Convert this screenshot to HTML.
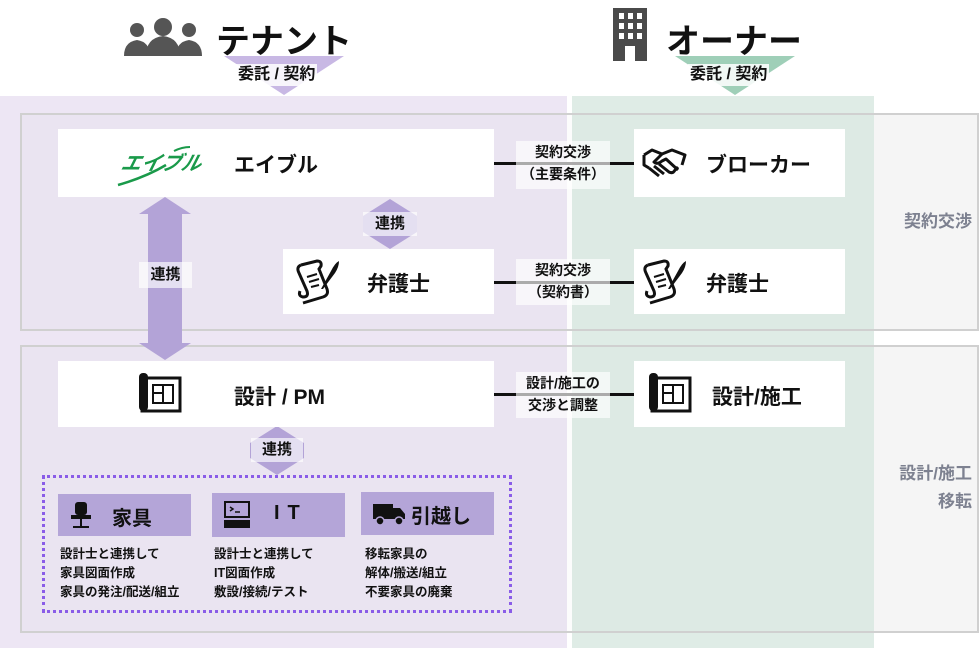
<!DOCTYPE html>
<html><head><meta charset="utf-8"><style>
*{margin:0;padding:0;box-sizing:border-box}
body{width:980px;height:648px;position:relative;background:#fff;overflow:hidden;font-family:"Liberation Sans","Noto Sans CJK JP",sans-serif;color:#111}
.a{position:absolute}
.node{position:absolute;background:#fff;font-weight:bold;font-size:21px}
.lbl{position:absolute;background:rgba(255,255,255,0.65);font-size:14px;font-weight:bold;text-align:center;line-height:22px}
.sub{position:absolute;background:#b4a5d8;font-weight:bold;font-size:20px}
.desc{position:absolute;font-size:12.5px;font-weight:bold;line-height:19px}
.side{position:absolute;color:#7d8190;font-weight:bold;font-size:17px;text-align:right;line-height:28px}
</style></head><body>
<div class="a" style="left:0;top:96px;width:567px;height:552px;background:#ede6f4"></div>
<div class="a" style="left:572px;top:96px;width:302px;height:552px;background:#dfece6"></div>
<div class="a" style="left:20px;top:113px;width:959px;height:218px;border:2px solid #d0d0d0;background:rgba(200,200,200,0.05)"></div>
<div class="a" style="left:20px;top:345px;width:959px;height:288px;border:2px solid #d0d0d0;background:rgba(200,200,200,0.05)"></div>
<div class="a" style="left:874px;top:115px;width:103px;height:214px;background:#f5f5f5"></div>
<div class="a" style="left:874px;top:347px;width:103px;height:284px;background:#f5f5f5"></div>
<div class="side" style="left:876px;top:208px;width:96px">契約交渉</div>
<div class="side" style="left:862px;top:460px;width:110px">設計/施工<br>移転</div>

<svg class="a" style="left:122px;top:16px" width="82" height="42" viewBox="0 0 82 42">
<g fill="#555">
<circle cx="15" cy="14" r="7"/><path d="M2 40 q0 -14 13 -16 q13 2 13 16z"/>
<circle cx="67" cy="14" r="7"/><path d="M54 40 q0 -14 13 -16 q13 2 13 16z"/>
<circle cx="41" cy="11" r="9"/><path d="M24 40 q0 -18 17 -20 q17 2 17 20z"/>
</g></svg>
<div class="a" style="left:216px;top:14px;font-size:34px;font-weight:bold">テナント</div>
<svg class="a" style="left:224px;top:56px" width="120" height="40"><polygon points="0,0 120,0 60,39" fill="#c8b8e4"/></svg>
<div class="a" style="left:236px;top:64px;font-size:16px;font-weight:bold;background:rgba(255,255,255,0.85);padding:0 2px;line-height:22px">委託 / 契約</div>

<svg class="a" style="left:613px;top:8px" width="36" height="54"><rect x="0" y="0" width="34" height="53" fill="#4a4a4a"/><g fill="#fff">
<rect x="6" y="5" width="5" height="6"/><rect x="15" y="5" width="5" height="6"/><rect x="24" y="5" width="5" height="6"/>
<rect x="6" y="15" width="5" height="6"/><rect x="15" y="15" width="5" height="6"/><rect x="24" y="15" width="5" height="6"/>
<rect x="6" y="25" width="5" height="6"/><rect x="15" y="25" width="5" height="6"/><rect x="24" y="25" width="5" height="6"/>
<rect x="12" y="38" width="10" height="15"/></g></svg>
<div class="a" style="left:666px;top:14px;font-size:34px;font-weight:bold">オーナー</div>
<svg class="a" style="left:675px;top:56px" width="120" height="40"><polygon points="0,0 120,0 60,39" fill="#9fcfb8"/></svg>
<div class="a" style="left:688px;top:64px;font-size:16px;font-weight:bold;background:rgba(255,255,255,0.85);padding:0 2px;line-height:22px">委託 / 契約</div>

<div class="a" style="left:494px;top:162px;width:140px;height:3px;background:#111"></div>
<div class="a" style="left:494px;top:281px;width:140px;height:3px;background:#111"></div>
<div class="a" style="left:494px;top:393px;width:140px;height:3px;background:#111"></div>
<div class="lbl" style="left:516px;top:141px;width:94px;height:48px">契約交渉<br>（主要条件）</div>
<div class="lbl" style="left:516px;top:259px;width:94px;height:46px">契約交渉<br>（契約書）</div>
<div class="lbl" style="left:516px;top:372px;width:94px;height:46px">設計/施工の<br>交渉と調整</div>

<svg class="a" style="left:139px;top:197px" width="53" height="164"><polygon points="26,0 52,17 43,17 43,146 52,146 26,163 0,146 9,146 9,17 0,17" fill="#b3a3d7"/></svg>
<div class="lbl" style="left:139px;top:262px;width:53px;height:26px;font-size:15px;line-height:26px">連携</div>
<svg class="a" style="left:363px;top:199px" width="54" height="50"><polygon points="27,0 54,17 54,33 27,50 0,33 0,17" fill="#b3a3d7"/></svg>
<div class="lbl" style="left:363px;top:212px;width:54px;height:24px;font-size:15px;line-height:24px">連携</div>
<svg class="a" style="left:250px;top:426px" width="54" height="49"><polygon points="27,0 54,17 54,32 27,49 0,32 0,17" fill="#b3a3d7"/></svg>
<div class="lbl" style="left:251px;top:438px;width:52px;height:24px;font-size:15px;line-height:24px">連携</div>

<div class="node" style="left:58px;top:129px;width:436px;height:68px">
<div class="a" style="left:64px;top:18px;font-style:italic;color:#1a9a4a;font-size:20px;font-weight:bold;transform:skewX(-14deg)">エイブル</div>
<svg class="a" style="left:58px;top:14px" width="76" height="44"><path d="M2 42 Q30 34 50 22" stroke="#1a9a4a" stroke-width="2.5" fill="none"/><path d="M58 8 Q66 4 74 4" stroke="#1a9a4a" stroke-width="2" fill="none"/></svg>
<div class="a" style="left:176px;top:20px">エイブル</div></div>

<svg width="0" height="0" style="position:absolute"><defs>
<g id="scroll"><path d="M6 6 q-5 2 -2 8 l8 18 q2 6 -4 6 q-5 -1 -3 -6" fill="none" stroke="#111" stroke-width="3"/><path d="M6 6 l16 -4 q5 0 4 5 l-2 3 l8 20 q2 6 -4 8 l-20 6" fill="none" stroke="#111" stroke-width="3"/><path d="M12 18l10-3M14 23l10-3M16 28l8-2" stroke="#111" stroke-width="2"/><path d="M26 30 l10 -18 q4 -8 8 -10 q0 6 -4 12 l-12 16z" fill="#111"/></g>
</defs></svg>

<div class="node" style="left:634px;top:129px;width:211px;height:68px">
<svg class="a" style="left:8px;top:18px" width="46" height="32"><g fill="none" stroke="#111" stroke-width="3" stroke-linejoin="round"><path d="M2 8 l8 -5 l10 4 l10 -4 l13 5 l-3 10"/><path d="M2 8 l-0 10 l5 3"/><path d="M20 7 l-8 8 q3 3 8 -1 l4 -2 l12 11"/><path d="M7 21 l10 8 M12 19 l10 8 M17 17 l10 8 q4 2 6 -2 l3 -3"/></g></svg>
<div class="a" style="left:72px;top:20px">ブローカー</div></div>
<div class="node" style="left:283px;top:249px;width:211px;height:65px">
<svg class="a" style="left:12px;top:10px" width="46" height="46"><use href="#scroll"/></svg>
<div class="a" style="left:84px;top:19px">弁護士</div></div>
<div class="node" style="left:634px;top:249px;width:211px;height:65px">
<svg class="a" style="left:8px;top:10px" width="46" height="46"><use href="#scroll"/></svg>
<div class="a" style="left:72px;top:19px">弁護士</div></div>
<div class="node" style="left:58px;top:361px;width:436px;height:66px">
<svg class="a" style="left:80px;top:12px" width="44" height="40"><rect x="1" y="0" width="9" height="38" rx="4" fill="#111"/><rect x="4" y="5" width="38" height="33" fill="none" stroke="#111" stroke-width="3"/><rect x="15" y="12" width="20" height="18" fill="none" stroke="#111" stroke-width="2"/><path d="M15 20h10v10M25 12v8" stroke="#111" stroke-width="2" fill="none"/></svg>
<div class="a" style="left:176px;top:20px">設計 / PM</div></div>
<div class="node" style="left:634px;top:361px;width:211px;height:66px">
<svg class="a" style="left:14px;top:12px" width="44" height="40"><rect x="1" y="0" width="9" height="38" rx="4" fill="#111"/><rect x="4" y="5" width="38" height="33" fill="none" stroke="#111" stroke-width="3"/><rect x="15" y="12" width="20" height="18" fill="none" stroke="#111" stroke-width="2"/><path d="M15 20h10v10M25 12v8" stroke="#111" stroke-width="2" fill="none"/></svg>
<div class="a" style="left:78px;top:20px">設計/施工</div></div>

<div class="a" style="left:42px;top:475px;width:470px;height:138px;border:3px dotted #8a5ce8"></div>
<div class="sub" style="left:58px;top:494px;width:133px;height:42px">
<svg class="a" style="left:12px;top:8px" width="22" height="28"><rect x="5" y="0" width="12" height="13" rx="3" fill="#111"/><rect x="1" y="13" width="20" height="4" fill="#111"/><rect x="10" y="17" width="2" height="5" fill="#111"/><path d="M3 25h16M11 22v3" stroke="#111" stroke-width="2"/></svg>
<div class="a" style="left:54px;top:8px">家具</div></div>
<div class="sub" style="left:212px;top:493px;width:133px;height:44px">
<svg class="a" style="left:12px;top:8px" width="26" height="28"><rect x="1" y="1" width="24" height="15" fill="none" stroke="#111" stroke-width="2"/><path d="M6 6l3 2-3 2M11 11h5" stroke="#111" stroke-width="1.5" fill="none"/><rect x="0" y="19" width="26" height="8" fill="#111"/></svg>
<div class="a" style="left:62px;top:9px;letter-spacing:8px">IT</div></div>
<div class="sub" style="left:361px;top:492px;width:133px;height:43px">
<svg class="a" style="left:12px;top:10px" width="34" height="24"><rect x="0" y="2" width="20" height="15" fill="#111"/><path d="M20 6h7l5 6v5h-12z" fill="#111"/><circle cx="7" cy="19" r="4" fill="#111" stroke="#b4a5d8" stroke-width="1.5"/><circle cx="26" cy="19" r="4" fill="#111" stroke="#b4a5d8" stroke-width="1.5"/></svg>
<div class="a" style="left:50px;top:8px">引越し</div></div>
<div class="desc" style="left:60px;top:545px">設計士と連携して<br>家具図面作成<br>家具の発注/配送/組立</div>
<div class="desc" style="left:214px;top:545px">設計士と連携して<br>IT図面作成<br>敷設/接続/テスト</div>
<div class="desc" style="left:365px;top:545px">移転家具の<br>解体/搬送/組立<br>不要家具の廃棄</div>
</body></html>
